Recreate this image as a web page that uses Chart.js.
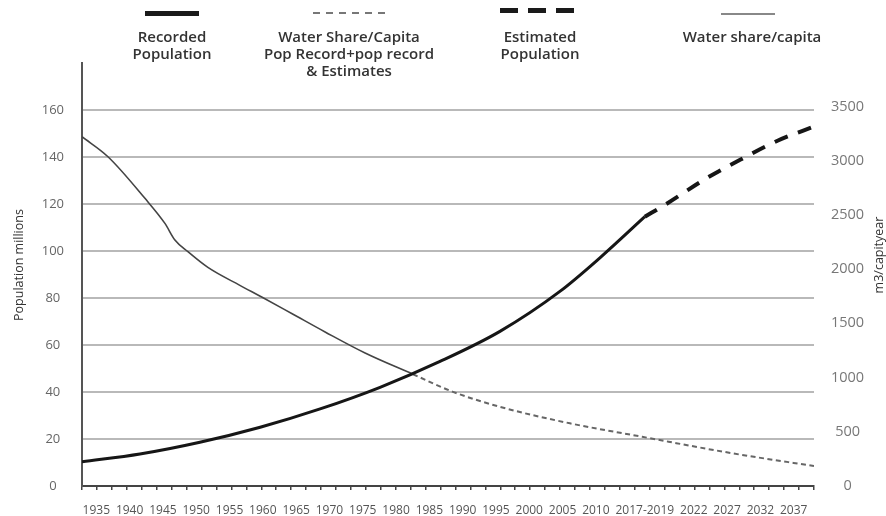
<!DOCTYPE html>
<html>
<head>
<meta charset="utf-8">
<script src="https://cdn.jsdelivr.net/npm/chart.js@4.4.1/dist/chart.umd.min.js"></script>
<style>
  html, body { margin: 0; padding: 0; background: #fff; }
  #wrap { position: relative; width: 886px; height: 516px; overflow: hidden; font-family: "Open Sans", sans-serif; }
  #grafico { position: absolute; left: 0; top: 0; }
  .leg { position: absolute; top: 28px; transform: translateX(-50%); text-align: center; white-space: nowrap;
         font-size: 15px; font-weight: 600; line-height: 17px; color: #333; }
  .amostra { position: absolute; }
</style>
</head>
<body>
<div id="wrap">
  <canvas id="grafico" width="886" height="516"></canvas>

  <!-- legenda -->
  <div class="amostra" style="left:145px;top:11px;width:54px;height:5px;background:#1a1a1a"></div>
  <div class="leg" style="left:172px">Recorded<br>Population</div>

  <div class="amostra" style="left:313px;top:12px;width:76px;height:2px;background:repeating-linear-gradient(to right,#777 0 7px,transparent 7px 13px)"></div>
  <div class="leg" style="left:349px">Water Share/Capita<br>Pop Record+pop record<br>&amp; Estimates</div>

  <div class="amostra" style="left:500px;top:8px;width:74px;height:5px;background:repeating-linear-gradient(to right,#1a1a1a 0 18px,transparent 18px 28px)"></div>
  <div class="leg" style="left:540px">Estimated<br>Population</div>

  <div class="amostra" style="left:721px;top:13px;width:54px;height:2px;background:#888"></div>
  <div class="leg" style="left:752px">Water share/capita</div>
</div>

<script>
//Rótulos do eixo x e sua posição (o rótulo largo 2017-2019 empurra os seguintes)
const xLabels = ['1935', '1940', '1945', '1950', '1955', '1960', '1965', '1970', '1975', '1980',
                 '1985', '1990', '1995', '2000', '2005', '2010', '2017-2019', '2022', '2027', '2032', '2037'];
const xLabelPos = [0, 1, 2, 3, 4, 5, 6, 7, 8, 9, 10, 11, 12, 13, 14, 15, 16.47, 17.94, 18.94, 19.94, 20.94];

//População registrada (milhões)
const recordedPos = [-0.43, 1.31, 3.11, 4.92, 6.72, 8.52, 10.32, 12.12, 13.92, 15.13, 16.47];
const recordedPop = [10.3, 13.6, 18.6, 25.0, 32.8, 42.0, 53.0, 65.8, 82.8, 97.2, 114.6];

//População estimada (milhões)
const estimatedPos = [16.47, 17.07, 18.28, 19.33, 20.47, 21.55];
const estimatedPop = [114.6, 119.6, 130.6, 138.8, 147, 153];

//Água por habitante (m3/cap/ano) - registro
const waterPos = [-0.43, 0.35, 1.46, 2.06, 2.36, 2.75, 3.35, 4.31, 4.98, 5.88, 6.87, 8.07, 9.51];
const waterShare = [3220, 3036, 2652, 2421, 2268, 2160, 2015, 1850, 1740, 1588, 1420, 1226, 1030];

//Água por habitante (m3/cap/ano) - registro + estimativas
const waterEstPos = [9.51, 10.71, 12.12, 14.22, 16.39, 19.09, 21.55];
const waterEst = [1030, 868, 730, 578, 454, 302, 184];

//Ticks dos eixos y
const leftTicks = [0, 20, 40, 60, 80, 100, 120, 140, 160];
const rightTicks = [0, 500, 1000, 1500, 2000, 2500, 3000, 3500];

function pontos(pos, vals) {
    return pos.map((p, i) => ({ x: p, y: vals[i] }));
}

//Títulos dos eixos y (ambos lidos de baixo para cima)
function tituloVertical(ctx, texto, x, y) {
    ctx.save();
    ctx.translate(x, y);
    ctx.rotate(-Math.PI / 2);
    ctx.font = '12.5px "Open Sans"';
    ctx.fillStyle = '#333';
    ctx.textAlign = 'center';
    ctx.textBaseline = 'middle';
    ctx.fillText(texto, 0, 0);
    ctx.restore();
}
const titulosEixos = {
    id: 'titulosEixos',
    afterDraw(chart) {
        tituloVertical(chart.ctx, 'Population millions', chart.scales.y.left + 19, 265);
        tituloVertical(chart.ctx, 'm3/capityear', chart.scales.y1.right - 7, 255);
    }
};

const ctx = document.getElementById('grafico');
new Chart(ctx, {
    type: 'line',
    data: {
        datasets: [
            {
                label: 'Recorded Population',
                data: pontos(recordedPos, recordedPop),
                borderColor: '#161616',
                borderWidth: 3,
                yAxisID: 'y', xAxisID: 'x'
            },
            {
                label: 'Estimated Population',
                data: pontos(estimatedPos, estimatedPop),
                borderColor: '#161616',
                borderWidth: 4,
                borderDash: [14, 11],
                yAxisID: 'y', xAxisID: 'x'
            },
            {
                label: 'Water share/capita',
                data: pontos(waterPos, waterShare),
                borderColor: '#444',
                borderWidth: 1.6,
                yAxisID: 'y1', xAxisID: 'x'
            },
            {
                label: 'Water Share/Capita Pop Record+pop record & Estimates',
                data: pontos(waterEstPos, waterEst),
                borderColor: '#666',
                borderWidth: 2,
                borderDash: [5, 3.5],
                yAxisID: 'y1', xAxisID: 'x'
            }
        ]
    },
    options: {
        responsive: false,
        animation: false,
        elements: { point: { radius: 0 }, line: { cubicInterpolationMode: 'monotone' } },
        layout: { padding: { top: 63, left: 0, right: 0, bottom: 0 } },
        plugins: { legend: { display: false }, tooltip: { enabled: false } },
        scales: {
            xt: {
                type: 'linear', position: 'bottom', weight: 0,
                min: 0, max: 49,
                afterBuildTicks: s => { s.ticks = []; for (let i = 0; i <= 49; i++) s.ticks.push({ value: i }); },
                ticks: { display: false, autoSkip: false },
                grid: { drawOnChartArea: false, drawTicks: true, tickLength: 4, color: '#444', lineWidth: 1.5 },
                border: { display: true, color: '#444', width: 2 },
                afterFit: s => { s.height = 4; }
            },
            x: {
                type: 'linear', position: 'bottom', weight: 1,
                min: -0.43, max: 21.55,
                afterBuildTicks: s => { s.ticks = xLabelPos.map(p => ({ value: p })); },
                ticks: {
                    autoSkip: false, maxRotation: 0, padding: 5,
                    color: '#555', font: { family: 'Open Sans', size: 12 },
                    callback: (v, i) => xLabels[i]
                },
                grid: { display: false },
                border: { display: false },
                afterFit: s => { s.height = 26; }
            },
            y: {
                position: 'left',
                min: 0, max: 180,
                afterBuildTicks: s => { s.ticks = leftTicks.concat([180]).map(v => ({ value: v })); },
                ticks: {
                    crossAlign: 'center', padding: 18,
                    color: '#666', font: { family: 'Open Sans', size: 13 },
                    callback: v => (v === 180 ? '' : String(v))
                },
                grid: {
                    drawTicks: false, lineWidth: 2,
                    color: c => (c.tick.value === 0 || c.tick.value === 180 ? 'rgba(0,0,0,0)' : '#b9b9b9')
                },
                border: { display: true, color: '#555', width: 2 },
                afterFit: s => { s.width = 82; }
            },
            y1: {
                position: 'right',
                min: 0, max: 3900,
                afterBuildTicks: s => { s.ticks = rightTicks.map(v => ({ value: v })); },
                ticks: {
                    crossAlign: 'center', padding: 9,
                    color: '#777', font: { family: 'Open Sans', size: 14.5 },
                    callback: v => String(v)
                },
                grid: { display: false },
                border: { display: false },
                afterFit: s => { s.width = 72; }
            }
        }
    },
    plugins: [titulosEixos]
});
</script>
</body>
</html>
